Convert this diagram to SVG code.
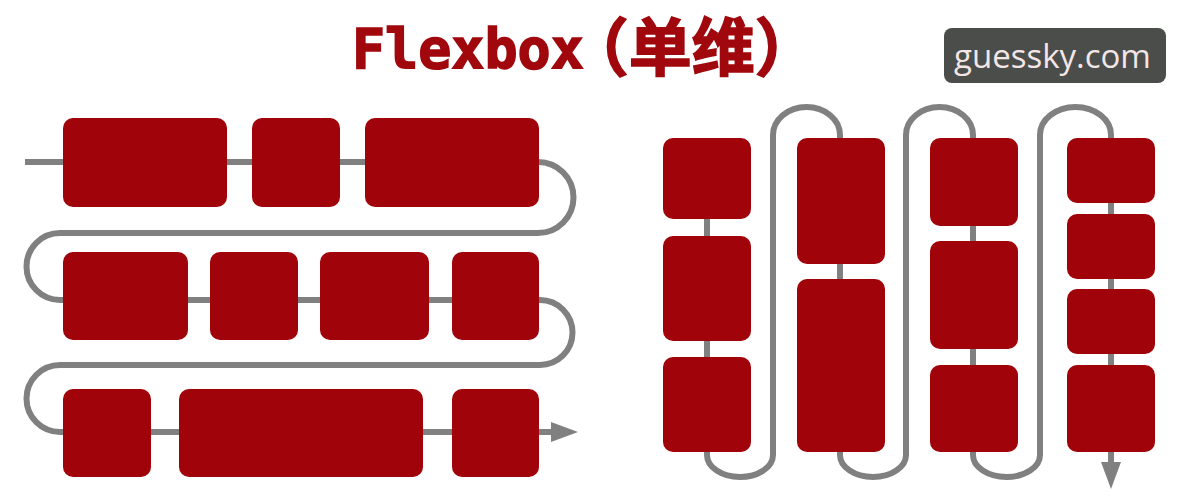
<svg xmlns="http://www.w3.org/2000/svg" width="1193" height="500" viewBox="0 0 1193 500">
<style>
.box{fill:#a00309}
.flow{fill:none;stroke:#808080;stroke-width:6}
.title{fill:#a0080d;stroke:#a0080d;stroke-width:1.6;font-weight:bold}
.wm{fill:#f4e6e6;font-family:"Open Sans","Noto Sans",sans-serif;font-size:33px}
</style>
<defs>
<marker id="arrow" viewBox="0 0 27 20" refX="0" refY="10" markerWidth="27" markerHeight="20" markerUnits="userSpaceOnUse" orient="auto">
<path d="M0 0 L27 10 L0 20 Z" fill="#808080"/>
</marker>
</defs>
<rect width="1193" height="500" fill="#ffffff"/>
<text class="title" x="352" y="68" font-family="'DejaVu Sans Mono',monospace" font-size="55">Flexbox<tspan font-family="'Noto Sans CJK SC',sans-serif" font-size="63" dx="-18" dy="2">（单维）</tspan></text>
<g id="watermark">
<rect x="944" y="28" width="222" height="55" rx="8" fill="#4a4d4a"/>
<text class="wm" x="954" y="68">guessky.com</text>
</g>
<g id="connectors">
<path class="flow" marker-end="url(#arrow)" d="M25 162 H538 A35.5 35.5 0 0 1 538 233 H60 A33.5 33.5 0 0 0 60 300 H540 A32.5 32.5 0 0 1 540 365 H60 A33.5 33.5 0 0 0 60 432 H551"/>
<path class="flow" marker-end="url(#arrow)" d="M707 150 V455 A33 22 0 0 0 773 455 V135 A33.5 28 0 0 1 840 135 V455 A33 22 0 0 0 906 455 V135 A33.5 28 0 0 1 973 135 V455 A33.5 22 0 0 0 1040 455 V135 A35.5 28 0 0 1 1111 135 V462"/>
</g>
<g id="row1">
<rect id="r1a" class="box" x="63" y="118" width="164" height="89" rx="10"/>
<rect id="r1b" class="box" x="252" y="118" width="88" height="89" rx="10"/>
<rect id="r1c" class="box" x="365" y="118" width="174" height="89" rx="10"/>
</g>
<g id="row2">
<rect id="r2a" class="box" x="63" y="252" width="125" height="88" rx="10"/>
<rect id="r2b" class="box" x="210" y="252" width="88" height="88" rx="10"/>
<rect id="r2c" class="box" x="320" y="252" width="109" height="88" rx="10"/>
<rect id="r2d" class="box" x="452" y="252" width="87" height="88" rx="10"/>
</g>
<g id="row3">
<rect id="r3a" class="box" x="63" y="389" width="88" height="88" rx="10"/>
<rect id="r3b" class="box" x="179" y="389" width="244" height="88" rx="10"/>
<rect id="r3c" class="box" x="452" y="389" width="87" height="88" rx="10"/>
</g>
<g id="col1">
<rect id="c1a" class="box" x="663" y="138" width="88" height="81" rx="10"/>
<rect id="c1b" class="box" x="663" y="236" width="88" height="105" rx="10"/>
<rect id="c1c" class="box" x="663" y="357" width="88" height="95" rx="10"/>
</g>
<g id="col2">
<rect id="c2a" class="box" x="797" y="138" width="88" height="126" rx="10"/>
<rect id="c2b" class="box" x="797" y="279" width="88" height="173" rx="10"/>
</g>
<g id="col3">
<rect id="c3a" class="box" x="930" y="138" width="88" height="88" rx="10"/>
<rect id="c3b" class="box" x="930" y="241" width="88" height="108" rx="10"/>
<rect id="c3c" class="box" x="930" y="365" width="88" height="87" rx="10"/>
</g>
<g id="col4">
<rect id="c4a" class="box" x="1067" y="138" width="88" height="65" rx="10"/>
<rect id="c4b" class="box" x="1067" y="214" width="88" height="65" rx="10"/>
<rect id="c4c" class="box" x="1067" y="289" width="88" height="65" rx="10"/>
<rect id="c4d" class="box" x="1067" y="365" width="88" height="87" rx="10"/>
</g>
</svg>
